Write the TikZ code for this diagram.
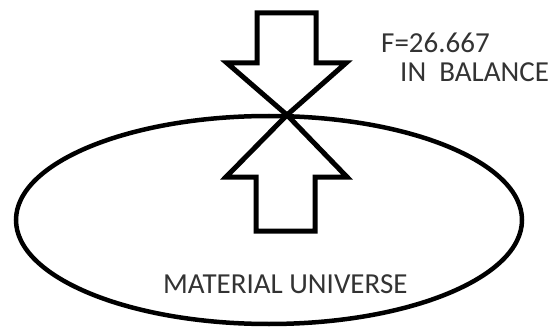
\documentclass[tikz,border=0pt]{standalone}
\usepackage{fontspec}
\setmainfont{Carlito}
\begin{document}
\begin{tikzpicture}[x=1pt,y=-1pt,
  outline/.style={draw=black,line width=5pt,line join=miter},
  rim/.style={draw=black,line width=4.5pt},
  lbl/.style={anchor=base west,inner sep=0pt,text=black!80,font=\fontsize{29}{33}\selectfont}]
\useasboundingbox (0,0) rectangle (555,329);
% universe
\draw[rim] (269,220) ellipse [x radius=253, y radius=104];
% downward arrow
\coordinate (tip) at (287,115);
\draw[outline] (257,13) -- (316,13) -- (316,63) -- (346,63) -- (tip) -- (227,63) -- (257,63) -- cycle;
% upward arrow
\draw[outline] (256,231) -- (315,231) -- (315,177) -- (347,177) -- (tip) -- (226,177) -- (256,177) -- cycle;
% labels
\node[lbl] (force) at (381,53) {F=26.667};
\node[lbl] (bal) at (400,82) {IN\ \ BALANCE};
\node[lbl] (mu) at (163,293) {MATERIAL UNIVERSE};
\end{tikzpicture}
\end{document}
